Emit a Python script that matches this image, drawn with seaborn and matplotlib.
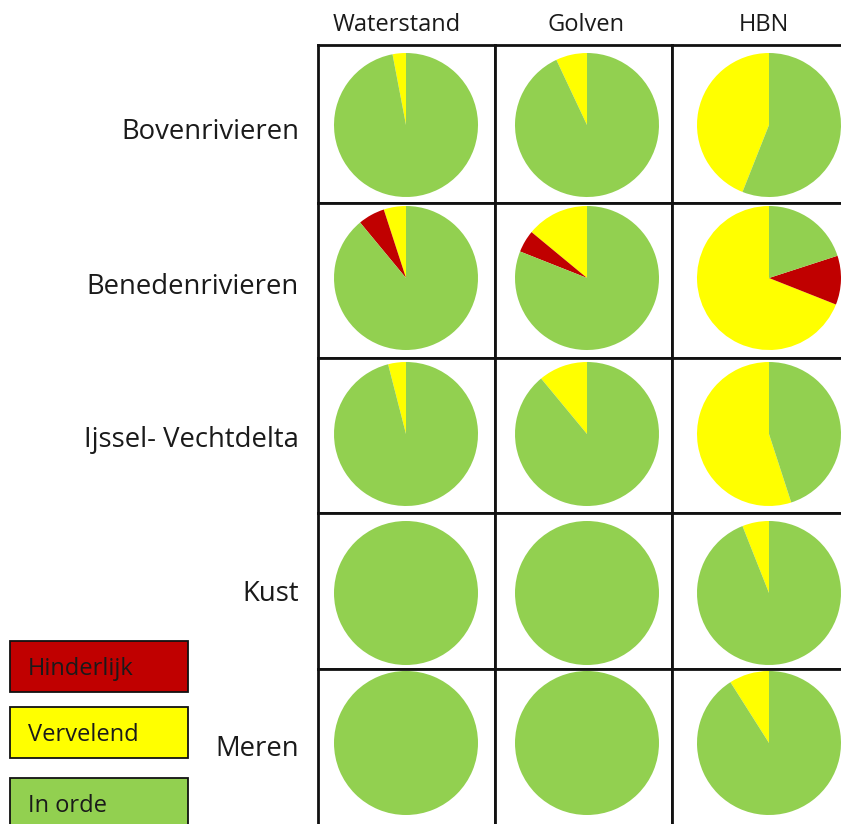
import matplotlib
matplotlib.use("Agg")
import matplotlib.pyplot as plt
from matplotlib.patches import Rectangle
import seaborn as sns

# ---------------- data ----------------
columns = ["Waterstand", "Golven", "HBN"]
regions = ["Bovenrivieren", "Benedenrivieren", "Ijssel- Vechtdelta", "Kust", "Meren"]
categories = ["Hinderlijk", "Vervelend", "In orde"]

# percentage per region (rows) and column (Waterstand, Golven, HBN)
vervelend = [[3, 7, 44],
             [5, 14, 69],
             [4, 11, 55],
             [0, 0, 6],
             [0, 0, 9]]
hinderlijk = [[0, 0, 0],
              [6, 5, 11],
              [0, 0, 0],
              [0, 0, 0],
              [0, 0, 0]]
in_orde = [[100 - v - h for v, h in zip(vr, hr)] for vr, hr in zip(vervelend, hinderlijk)]

# ---------------- style ----------------
sns.set_theme(style="white")
plt.rcParams["font.family"] = ["Open Sans", "DejaVu Sans"]
palette = sns.color_palette(["#C00000", "#FFFF00", "#92D050"])
col_hind, col_verv, col_ok = palette
text_color = "#1a1a1a"

W, H = 841, 824
fig = plt.figure(figsize=(W / 100, H / 100), dpi=100)

# background axes in pixel coordinates for labels and legend
bg = fig.add_axes([0, 0, 1, 1], zorder=0)
bg.set_xlim(0, W)
bg.set_ylim(H, 0)
bg.axis("off")

# grid layout (pixels)
col_edges = [318, 495, 672, 849]
row_edges = [45, 203, 358, 513, 669, 825]
pie_cx = [406, 587, 769]
pie_cy = [125, 278, 434, 593, 743]
label_base = [139, 294, 447, 601, 756]
pie_radius = 72
lw = 2.0

for r, region in enumerate(regions):
    y0, y1 = row_edges[r], row_edges[r + 1]
    for c, colname in enumerate(columns):
        x0, x1 = col_edges[c], col_edges[c + 1]
        w, h = x1 - x0, y1 - y0
        ax = fig.add_axes([x0 / W, 1 - y1 / H, w / W, h / H], zorder=1)
        vals = [vervelend[r][c], hinderlijk[r][c], in_orde[r][c]]
        dx = pie_cx[c] - (x0 + x1) / 2
        dy = (y0 + y1) / 2 - pie_cy[r]
        ax.pie(vals, colors=[col_verv, col_hind, col_ok], startangle=90,
               counterclock=True, radius=pie_radius, center=(dx, dy),
               wedgeprops=dict(linewidth=0))
        ax.set_aspect("auto")
        ax.set_xlim(-w / 2, w / 2)
        ax.set_ylim(-h / 2, h / 2)
        ax.set_frame_on(True)
        for side, sp in ax.spines.items():
            sp.set_visible(True)
            sp.set_color("#111111")
            sp.set_linewidth(lw)
        if r == len(regions) - 1:
            ax.spines["bottom"].set_visible(False)
        ax.set_xticks([])
        ax.set_yticks([])
    # row label
    bg.text(299, label_base[r], region, ha="right", va="baseline",
            fontsize=19.8, color=text_color)

# column headers
header_x = [397, 586, 764]
for x, name in zip(header_x, columns):
    bg.text(x, 31, name, ha="center", va="baseline", fontsize=17, color=text_color)

# legend boxes
legend_tops = [641, 707, 778]
legend_cols = [col_hind, col_verv, col_ok]
for top, name, colr in zip(legend_tops, categories, legend_cols):
    bg.add_patch(Rectangle((10, top), 178, 51, facecolor=colr,
                           edgecolor="#111111", linewidth=1.3))
    bg.text(28, top + 34, name, ha="left", va="baseline", fontsize=17, color=text_color)

fig.savefig("out.png", dpi=100)
